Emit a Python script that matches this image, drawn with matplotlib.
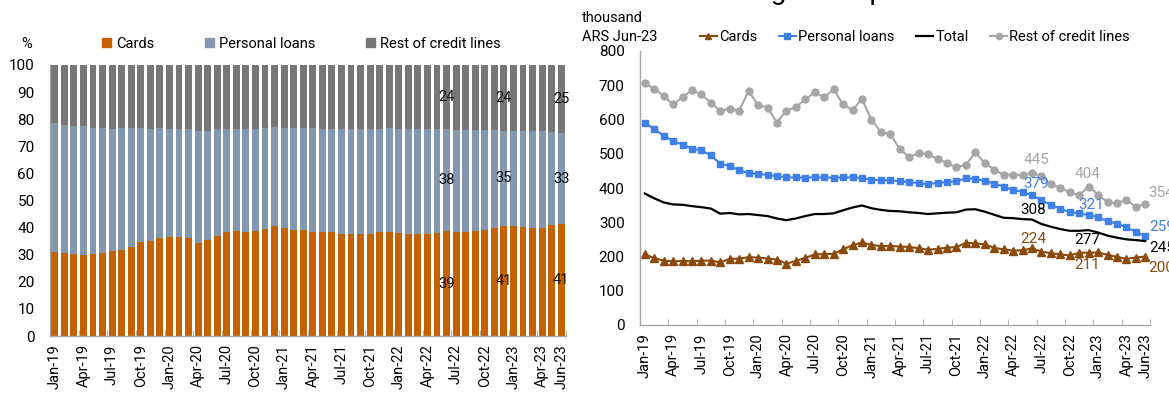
import numpy as np
import pandas as pd
import matplotlib
matplotlib.use("Agg")
import matplotlib.pyplot as plt
from matplotlib.patches import Patch
from matplotlib.lines import Line2D

plt.rcParams['font.family'] = ['Roboto', 'DejaVu Sans']

# ---- data -------------------------------------------------------------
months = pd.date_range('2019-01-01', '2023-06-01', freq='MS').strftime('%b-%y').tolist()

# composition of the stock (%)
share_cards = [30.9, 30.5, 30.1, 30.0, 30.3, 30.5, 31.2, 31.9, 33.0, 34.6,
               35.2, 36.3, 36.7, 36.4, 36.2, 34.2, 35.4, 37.0, 38.5, 38.9,
               38.5, 38.7, 39.5, 40.6, 40.0, 39.0, 39.0, 38.5, 38.3, 38.3,
               37.8, 37.8, 37.6, 37.6, 38.3, 38.3, 38.0, 37.5, 37.5, 37.6,
               37.9, 38.7, 38.5, 38.4, 38.6, 39.0, 40.0, 40.6, 40.6, 40.3,
               40.0, 40.0, 40.8, 41.4]
share_personal = [47.6, 47.5, 47.5, 47.5, 46.5, 46.3, 45.3, 44.9, 43.8, 42.2,
                  41.3, 40.5, 39.8, 40.1, 40.3, 41.6, 40.4, 39.4, 38.0, 37.6,
                  38.0, 37.8, 37.3, 36.5, 36.9, 37.9, 37.9, 38.1, 38.1, 38.1,
                  38.6, 38.6, 38.8, 38.9, 38.2, 38.3, 38.5, 39.0, 38.8, 38.7,
                  38.4, 37.6, 37.5, 37.5, 37.4, 36.9, 35.9, 35.2, 35.2, 35.4,
                  35.5, 35.5, 34.5, 33.4]
share_rest = [21.5, 22.0, 22.4, 22.5, 23.2, 23.2, 23.5, 23.2, 23.2, 23.2,
              23.5, 23.2, 23.5, 23.5, 23.5, 24.2, 24.2, 23.6, 23.5, 23.5,
              23.5, 23.5, 23.2, 22.9, 23.1, 23.1, 23.1, 23.4, 23.6, 23.6,
              23.6, 23.6, 23.6, 23.5, 23.5, 23.4, 23.5, 23.5, 23.7, 23.7,
              23.7, 23.7, 24.0, 24.1, 24.0, 24.1, 24.1, 24.2, 24.2, 24.3,
              24.5, 24.5, 24.7, 25.2]

# thousand ARS of Jun-23
amt_cards = [207, 195, 188, 186, 187, 186, 188, 188, 183, 193,
             194, 198, 197, 194, 191, 179, 187, 196, 206, 207,
             208, 221, 233, 241, 234, 230, 231, 229, 228, 224,
             220, 222, 226, 227, 240, 238, 236, 225, 221, 217,
             218, 224, 214, 210, 206, 203, 211, 211, 212, 205,
             199, 193, 197, 200]
amt_personal = [591, 572, 553, 537, 527, 515, 510, 495, 471, 464,
                452, 443, 441, 438, 435, 431, 431, 430, 431, 431,
                430, 431, 431, 429, 424, 423, 422, 420, 417, 414,
                411, 415, 417, 420, 428, 427, 421, 413, 404, 394,
                389, 379, 364, 351, 340, 329, 326, 321, 315, 303,
                296, 285, 272, 259]
amt_total = [384, 370, 358, 352, 351, 347, 344, 340, 325, 327,
             323, 324, 321, 318, 311, 306, 311, 318, 324, 324,
             326, 335, 343, 349, 341, 336, 333, 332, 329, 327,
             324, 326, 328, 329, 337, 338, 331, 322, 313, 312,
             309, 308, 295, 287, 280, 275, 275, 277, 270, 261,
             255, 250, 248, 245]
amt_rest = [707, 689, 669, 644, 665, 685, 673, 649, 625, 632,
            626, 683, 642, 635, 591, 626, 636, 659, 679, 665,
            688, 644, 627, 660, 599, 564, 557, 514, 490, 502,
            498, 485, 473, 460, 468, 504, 473, 454, 439, 439,
            437, 445, 434, 411, 401, 387, 379, 404, 381, 358,
            356, 365, 345, 354]

labelled_months = ['Jun-22', 'Dec-22', 'Jun-23']

# ---- styling -----------------------------------------------------------
W, H = 1169, 394
fig = plt.figure(figsize=(W / 100, H / 100), dpi=100)

C_CARDS_BAR, C_PERS_BAR, C_REST_BAR = '#C46200', '#8497B0', '#767676'
C_CARDS, C_PERS, C_TOTAL, C_REST = '#8B4A0C', '#3F7FE8', '#000000', '#A6A6A6'
SPINE = '#A6A6A6'
FS = 10.5

x = np.arange(len(months))
tick_idx = list(range(0, len(months), 3)) + [len(months) - 1]
bound_ticks = list(np.arange(2.5, len(months) - 1, 3)) + [len(months) - 0.5]


def style_axis(ax):
    for s in ('top', 'right'):
        ax.spines[s].set_visible(False)
    for s in ('left', 'bottom'):
        ax.spines[s].set_color(SPINE)
        ax.spines[s].set_linewidth(1.0)
    ax.set_xlim(-0.5, len(months) - 0.5)
    ax.set_xticks(tick_idx)
    ax.set_xticklabels([months[i] for i in tick_idx], rotation=90, fontsize=FS)
    ax.set_xticks(bound_ticks, minor=True)
    ax.tick_params(axis='x', which='major', length=0, pad=6)
    ax.tick_params(axis='x', which='minor', direction='in', length=4, color=SPINE)
    ax.tick_params(axis='y', length=0, labelsize=FS + 0.5, pad=11)


# ---- left: composition -------------------------------------------------
ax1 = fig.add_axes([50 / W, (H - 336) / H, 516 / W, 271 / H])
bw = 0.72
ax1.bar(x, share_cards, bw, color=C_CARDS_BAR, label='Cards')
bottom2 = np.array(share_cards)
ax1.bar(x, share_personal, bw, bottom=bottom2, color=C_PERS_BAR, label='Personal loans')
bottom3 = bottom2 + np.array(share_personal)
ax1.bar(x, share_rest, bw, bottom=bottom3, color=C_REST_BAR, label='Rest of credit lines')
ax1.set_ylim(0, 100)
ax1.set_yticks(range(0, 101, 10))
style_axis(ax1)

for m in labelled_months:
    i = months.index(m)
    for val, base in ((share_cards[i], 0), (share_personal[i], bottom2[i]), (share_rest[i], bottom3[i])):
        ax1.text(i, base + val / 2, f'{val:.0f}', ha='center', va='center', fontsize=FS, color='#111111')

fig.text(27 / W, 1 - 44 / H, '%', ha='center', va='center', fontsize=FS)
fig.legend(handles=[Patch(color=C_CARDS_BAR, label='Cards'),
                    Patch(color=C_PERS_BAR, label='Personal loans'),
                    Patch(color=C_REST_BAR, label='Rest of credit lines')],
           loc='center left', bbox_to_anchor=(102 / W, 1 - 44 / H), ncol=3, frameon=False,
           fontsize=FS, handlelength=0.6, handleheight=0.6, handletextpad=0.35,
           columnspacing=3.5, borderpad=0, borderaxespad=0)

# ---- right: average amounts -------------------------------------------
ax2 = fig.add_axes([640 / W, (H - 325) / H, 510 / W, 274 / H])
ax2.plot(x, amt_cards, color=C_CARDS, lw=1.5, marker='^', ms=6, label='Cards')
ax2.plot(x, amt_personal, color=C_PERS, lw=1.5, marker='s', ms=5, label='Personal loans')
ax2.plot(x, amt_total, color=C_TOTAL, lw=1.6, label='Total')
ax2.plot(x, amt_rest, color=C_REST, lw=1.5, marker='o', ms=5, label='Rest of credit lines')
ax2.set_ylim(0, 800)
ax2.set_yticks(range(0, 801, 100))
style_axis(ax2)

# value labels: (series, colour, offset in points) per labelled month
label_specs = {
    'Jun-22': [(amt_rest, C_REST, (3, 9)), (amt_personal, C_PERS, (3, 8)),
               (amt_total, C_TOTAL, (1, 7)), (amt_cards, C_CARDS, (1, 7))],
    'Dec-22': [(amt_rest, C_REST, (-1, 9)), (amt_personal, C_PERS, (2, 7)),
               (amt_total, C_TOTAL, (-1, -7)), (amt_cards, C_CARDS, (-1, -9))],
    'Jun-23': [(amt_rest, C_REST, (2, 8)), (amt_personal, C_PERS, (3, 7)),
               (amt_total, C_TOTAL, (3, -5)), (amt_cards, C_CARDS, (2, -8))],
}
for m, specs in label_specs.items():
    i = months.index(m)
    for series, col, (dx, dy) in specs:
        ha = 'left' if m == 'Jun-23' else 'center'
        ax2.annotate(f'{series[i]:.0f}', (i, series[i]), xytext=(dx, dy), textcoords='offset points',
                     ha=ha, va='center', fontsize=FS + 0.5, color=col, annotation_clip=False)

fig.text(582 / W, 1 - 18 / H, 'thousand', ha='left', va='center', fontsize=FS)
fig.text(582 / W, 1 - 37 / H, 'ARS Jun-23', ha='left', va='center', fontsize=FS)

h_cards = Line2D([], [], color=C_CARDS, lw=1.5, marker='^', ms=5)
h_pers = Line2D([], [], color=C_PERS, lw=1.5, marker='s', ms=4.5)
h_tot = Line2D([], [], color=C_TOTAL, lw=1.6)
h_rest = Line2D([], [], color=C_REST, lw=1.5, marker='o', ms=4.5)
fig.legend(handles=[h_cards, h_pers, h_tot, h_rest],
           labels=['Cards', 'Personal loans', 'Total', 'Rest of credit lines'],
           loc='center left', bbox_to_anchor=(700 / W, 1 - 37 / H), ncol=4, frameon=False,
           fontsize=FS, handlelength=1.15, handletextpad=0.15, columnspacing=1.5,
           borderpad=0, borderaxespad=0)

# chart heading sits above the top edge of the canvas
fig.text(700 / W, 1 + 1 / H, 'Average debt per debtor', ha='left', va='baseline', fontsize=20)

fig.savefig('out.png', dpi=100)
